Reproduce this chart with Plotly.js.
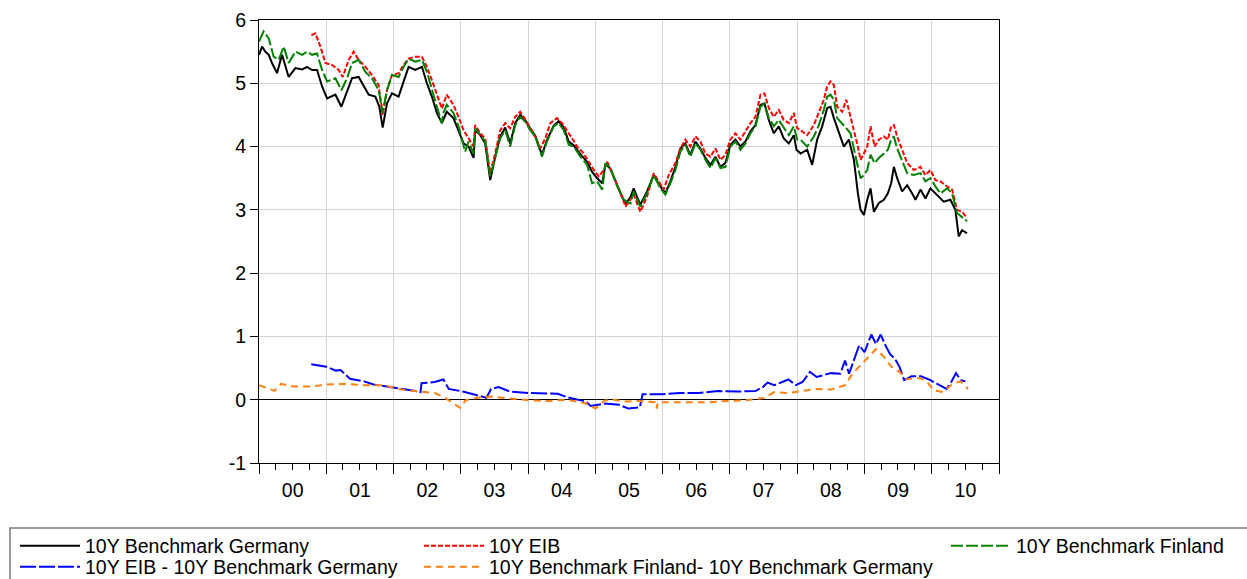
<!DOCTYPE html>
<html>
<head>
<meta charset="utf-8">
<script src="https://cdn.plot.ly/plotly-3.0.1.min.js"></script>
<style>html,body{margin:0;padding:0;background:#fff;}#chart{width:1247px;height:579px;}</style>
</head>
<body>
<div id="chart"></div>
<script>
// ---- data (decimal years, yields in %) ----
const germanyYears = [2000.00,2000.045,2000.094,2000.144,2000.193,2000.267,2000.342,2000.44,2000.54,2000.64,2000.713,2000.787,2000.861,2000.936,2001.01,2001.134,2001.223,2001.307,2001.381,2001.48,2001.554,2001.629,2001.728,2001.787,2001.837,2001.901,2001.975,2002.074,2002.149,2002.223,2002.322,2002.421,2002.495,2002.569,2002.644,2002.718,2002.79,2002.89,2002.965,2003.04,2003.114,2003.19,2003.213,2003.288,2003.362,2003.437,2003.511,2003.586,2003.66,2003.734,2003.809,2003.883,2003.958,2004.032,2004.107,2004.206,2004.28,2004.38,2004.454,2004.529,2004.603,2004.677,2004.777,2004.876,2004.95,2005.025,2005.1,2005.149,2005.223,2005.323,2005.397,2005.447,2005.521,2005.568,2005.667,2005.767,2005.866,2005.965,2006.04,2006.114,2006.189,2006.263,2006.337,2006.412,2006.486,2006.561,2006.635,2006.71,2006.784,2006.859,2006.933,2007.007,2007.082,2007.156,2007.231,2007.305,2007.38,2007.454,2007.514,2007.578,2007.653,2007.727,2007.801,2007.876,2007.95,2007.99,2008.05,2008.149,2008.223,2008.297,2008.371,2008.446,2008.495,2008.545,2008.619,2008.693,2008.767,2008.842,2008.901,2008.941,2008.99,2009.04,2009.089,2009.139,2009.213,2009.287,2009.347,2009.396,2009.436,2009.485,2009.559,2009.634,2009.708,2009.757,2009.832,2009.906,2009.98,2010.079,2010.178,2010.277,2010.351,2010.401,2010.45,2010.525];
const germanyYields = [5.45,5.58,5.50,5.45,5.32,5.16,5.45,5.10,5.24,5.22,5.26,5.21,5.21,4.95,4.76,4.82,4.63,4.87,5.08,5.10,4.95,4.82,4.79,4.63,4.30,4.68,4.84,4.79,5.03,5.26,5.21,5.26,5.00,4.79,4.53,4.37,4.55,4.45,4.25,4.05,4.00,3.82,4.27,4.18,4.05,3.47,3.84,4.16,4.30,4.05,4.37,4.50,4.42,4.28,4.17,3.87,4.10,4.33,4.40,4.30,4.08,4.02,3.88,3.76,3.60,3.50,3.42,3.72,3.65,3.38,3.20,3.10,3.20,3.34,3.08,3.29,3.55,3.37,3.26,3.45,3.68,3.97,4.05,3.87,4.08,3.97,3.82,3.71,3.84,3.68,3.74,4.03,4.11,4.00,4.08,4.24,4.34,4.66,4.68,4.42,4.21,4.32,4.13,4.05,4.18,3.95,3.89,3.95,3.71,4.11,4.32,4.61,4.63,4.45,4.24,4.00,4.11,3.79,3.26,3.00,2.92,3.16,3.34,2.97,3.11,3.16,3.26,3.42,3.68,3.50,3.29,3.39,3.26,3.16,3.32,3.18,3.34,3.24,3.13,3.16,3.00,2.58,2.68,2.63];

const eibYears = [2000.777,2000.837,2000.911,2000.985,2001.084,2001.183,2001.243,2001.332,2001.406,2001.48,2001.579,2001.678,2001.777,2001.837,2001.901,2001.975,2002.074,2002.149,2002.223,2002.322,2002.421,2002.495,2002.569,2002.644,2002.718,2002.79,2002.89,2002.965,2003.04,2003.114,2003.19,2003.213,2003.288,2003.362,2003.437,2003.511,2003.586,2003.66,2003.734,2003.809,2003.883,2003.933,2004.007,2004.082,2004.181,2004.256,2004.33,2004.429,2004.504,2004.578,2004.653,2004.727,2004.826,2004.9,2004.975,2005.05,2005.124,2005.174,2005.248,2005.323,2005.397,2005.447,2005.521,2005.568,2005.667,2005.767,2005.866,2005.965,2006.015,2006.089,2006.189,2006.263,2006.337,2006.412,2006.486,2006.561,2006.635,2006.71,2006.784,2006.859,2006.933,2007.007,2007.082,2007.156,2007.231,2007.305,2007.38,2007.454,2007.514,2007.578,2007.653,2007.727,2007.801,2007.876,2007.95,2008.0,2008.05,2008.149,2008.248,2008.322,2008.396,2008.446,2008.495,2008.545,2008.594,2008.668,2008.728,2008.792,2008.842,2008.901,2008.941,2008.99,2009.04,2009.089,2009.149,2009.213,2009.287,2009.347,2009.396,2009.436,2009.485,2009.559,2009.634,2009.733,2009.832,2009.906,2009.98,2010.054,2010.129,2010.228,2010.302,2010.376,2010.45,2010.525];
const eibYields = [5.76,5.79,5.58,5.32,5.29,5.21,5.10,5.37,5.50,5.37,5.26,5.13,4.97,4.50,4.89,5.13,5.16,5.29,5.39,5.42,5.42,5.26,5.05,4.82,4.60,4.82,4.66,4.47,4.26,4.13,4.00,4.34,4.21,4.13,3.58,3.89,4.26,4.37,4.29,4.47,4.55,4.47,4.34,4.21,3.97,4.13,4.37,4.45,4.37,4.26,4.13,4.00,3.89,3.76,3.63,3.53,3.63,3.76,3.58,3.37,3.21,3.05,3.16,3.24,2.97,3.21,3.58,3.42,3.32,3.55,3.74,3.97,4.11,4.00,4.16,4.08,3.89,3.84,3.97,3.79,3.87,4.11,4.21,4.11,4.24,4.37,4.47,4.82,4.84,4.61,4.47,4.58,4.42,4.37,4.53,4.29,4.26,4.18,4.34,4.55,4.74,4.95,5.03,4.97,4.63,4.55,4.74,4.47,4.26,4.00,3.79,3.89,4.00,4.32,4.00,4.11,4.16,4.11,4.32,4.34,4.16,3.95,3.74,3.63,3.68,3.55,3.63,3.47,3.45,3.37,3.32,3.00,2.97,2.87];

const finlandYears = [2000.00,2000.069,2000.144,2000.218,2000.292,2000.366,2000.44,2000.54,2000.64,2000.713,2000.787,2000.861,2000.936,2001.01,2001.134,2001.223,2001.307,2001.381,2001.48,2001.579,2001.678,2001.777,2001.837,2001.901,2001.975,2002.074,2002.149,2002.223,2002.322,2002.421,2002.495,2002.569,2002.644,2002.718,2002.74,2002.79,2002.89,2002.965,2003.064,2003.114,2003.19,2003.213,2003.288,2003.362,2003.437,2003.511,2003.586,2003.66,2003.734,2003.809,2003.883,2003.958,2004.032,2004.107,2004.206,2004.28,2004.38,2004.454,2004.529,2004.603,2004.677,2004.777,2004.876,2004.95,2005.025,2005.1,2005.149,2005.223,2005.323,2005.422,2005.521,2005.568,2005.667,2005.767,2005.866,2005.965,2006.04,2006.114,2006.189,2006.263,2006.337,2006.412,2006.486,2006.561,2006.635,2006.71,2006.784,2006.859,2006.933,2007.007,2007.082,2007.156,2007.231,2007.305,2007.38,2007.454,2007.514,2007.578,2007.653,2007.727,2007.801,2007.876,2007.95,2008.0,2008.05,2008.149,2008.248,2008.322,2008.396,2008.446,2008.495,2008.545,2008.594,2008.668,2008.728,2008.792,2008.842,2008.901,2008.941,2008.99,2009.04,2009.089,2009.149,2009.213,2009.287,2009.347,2009.396,2009.436,2009.485,2009.559,2009.634,2009.733,2009.832,2009.906,2009.98,2010.054,2010.129,2010.228,2010.302,2010.376,2010.45,2010.525];
const finlandYields = [5.66,5.82,5.71,5.42,5.37,5.58,5.32,5.50,5.45,5.50,5.45,5.47,5.21,5.03,5.08,4.89,5.08,5.32,5.37,5.18,5.08,4.89,4.53,4.89,5.13,5.10,5.26,5.39,5.34,5.37,5.18,4.89,4.63,4.37,4.53,4.66,4.53,4.32,3.92,4.08,3.89,4.29,4.18,4.08,3.53,3.84,4.13,4.26,4.00,4.34,4.47,4.39,4.26,4.16,3.84,4.08,4.32,4.37,4.26,4.03,4.00,3.84,3.71,3.42,3.45,3.32,3.74,3.66,3.37,3.16,3.10,3.29,3.05,3.26,3.55,3.34,3.24,3.42,3.63,3.92,4.03,3.84,4.05,3.95,3.79,3.66,3.82,3.66,3.68,4.00,4.08,3.95,4.05,4.21,4.32,4.63,4.68,4.45,4.32,4.42,4.29,4.18,4.32,4.11,4.11,4.00,4.16,4.34,4.58,4.79,4.82,4.74,4.45,4.37,4.29,4.21,3.95,3.68,3.50,3.55,3.63,3.87,3.74,3.82,3.89,3.95,4.11,4.16,3.97,3.79,3.58,3.55,3.58,3.45,3.50,3.37,3.26,3.34,3.26,2.95,2.89,2.82];

const eibSpreadYears = [2000.776,2001.0,2001.14,2001.21,2001.35,2001.56,2001.70,2001.98,2002.26,2002.40,2002.415,2002.61,2002.74,2002.82,2003.03,2003.24,2003.38,2003.45,2003.56,2003.73,2004.02,2004.44,2004.58,2004.86,2004.93,2005.14,2005.35,2005.49,2005.66,2005.70,2005.98,2006.26,2006.54,2006.82,2007.10,2007.38,2007.49,2007.56,2007.66,2007.87,2007.98,2008.08,2008.19,2008.29,2008.50,2008.64,2008.71,2008.77,2008.85,2008.92,2009.0,2009.10,2009.17,2009.24,2009.31,2009.38,2009.45,2009.52,2009.59,2009.70,2009.84,2009.98,2010.08,2010.22,2010.29,2010.36,2010.43,2010.50];
const eibSpread = [0.56,0.52,0.46,0.47,0.33,0.29,0.24,0.20,0.15,0.12,0.26,0.28,0.32,0.17,0.13,0.07,0.03,0.17,0.20,0.13,0.105,0.095,0.04,-0.03,-0.10,-0.06,-0.08,-0.14,-0.12,0.085,0.085,0.105,0.105,0.137,0.13,0.137,0.20,0.27,0.23,0.32,0.23,0.28,0.44,0.36,0.42,0.41,0.62,0.41,0.67,0.86,0.75,1.03,0.88,1.03,0.86,0.72,0.65,0.52,0.31,0.37,0.37,0.31,0.25,0.17,0.28,0.42,0.31,0.29];

const finlandSpreadYears = [2000.004,2000.09,2000.23,2000.33,2000.51,2000.79,2001.0,2001.28,2001.56,2001.84,2002.12,2002.40,2002.61,2002.75,2002.89,2002.99,2003.07,2003.24,2003.45,2003.73,2004.02,2004.30,2004.58,2004.86,2005.0,2005.14,2005.28,2005.42,2005.63,2005.90,2005.91,2005.93,2006.12,2006.40,2006.68,2006.96,2007.24,2007.52,2007.66,2007.87,2008.08,2008.29,2008.50,2008.71,2008.82,2008.92,2009.05,2009.17,2009.27,2009.40,2009.52,2009.63,2009.77,2009.91,2010.03,2010.17,2010.31,2010.43,2010.54];
const finlandSpread = [0.23,0.20,0.14,0.25,0.21,0.21,0.24,0.25,0.23,0.23,0.16,0.13,0.105,0.04,-0.06,-0.13,-0.01,0.03,0.05,0.016,-0.01,-0.02,0.0,-0.06,-0.14,-0.01,0.0,-0.03,-0.02,-0.04,-0.14,-0.04,-0.04,-0.03,-0.04,-0.02,-0.01,0.03,0.12,0.105,0.137,0.17,0.16,0.23,0.41,0.52,0.67,0.80,0.70,0.52,0.44,0.32,0.35,0.31,0.15,0.12,0.25,0.29,0.17];

const seriesNames = ['10Y Benchmark Germany','10Y EIB','10Y Benchmark Finland','10Y EIB - 10Y Benchmark Germany','10Y Benchmark Finland- 10Y Benchmark Germany'];
const yTickValues = [-1,0,1,2,3,4,5,6];
const yTickLabels = ['-1','0','1','2','3','4','5','6'];

// ---- helpers ----
function toDate(d){
  const y = Math.floor(d);
  const s = Date.UTC(y,0,1), e = Date.UTC(y+1,0,1);
  return new Date(s + (d - y) * (e - s)).toISOString().slice(0,19).replace('T',' ');
}
const dates = a => a.map(toDate);

const FONT = 'Liberation Sans, Arial, sans-serif';
const FS = 19.5;

const traces = [
  {x: dates(germanyYears), y: germanyYields, name: seriesNames[0], legend: 'legend',
   line: {color: '#000000', width: 2}},
  {x: dates(eibYears), y: eibYields, name: seriesNames[1], legend: 'legend2',
   line: {color: '#ff0000', width: 2, dash: '5px,2px'}},
  {x: dates(finlandYears), y: finlandYields, name: seriesNames[2], legend: 'legend3',
   line: {color: '#008000', width: 2, dash: '12px,3px'}},
  {x: dates(eibSpreadYears), y: eibSpread, name: seriesNames[3], legend: 'legend4',
   line: {color: '#0000ff', width: 2, dash: '16px,3px'}},
  {x: dates(finlandSpreadYears), y: finlandSpread, name: seriesNames[4], legend: 'legend5',
   line: {color: '#ff8010', width: 2, dash: '7px,5px'}}
].map(t => Object.assign({type: 'scatter', mode: 'lines', showlegend: true}, t));

const W = 1247, H = 579;
function leg(px, py){
  return {xref: 'container', yref: 'container', x: px / W, y: 1 - py / H,
    xanchor: 'left', yanchor: 'middle', orientation: 'v',
    bgcolor: 'rgba(0,0,0,0)', borderwidth: 0, itemwidth: 60,
    font: {family: FONT, size: FS, color: '#000'}, itemclick: false, itemdoubleclick: false};
}

const layout = {
  width: W, height: H,
  margin: {l: 259, r: 248, t: 20, b: 116, autoexpand: false},
  paper_bgcolor: '#ffffff', plot_bgcolor: '#ffffff',
  font: {family: FONT, size: FS, color: '#000'},
  showlegend: true,
  xaxis: {
    type: 'date',
    range: ['2000-01-01', '2011-01-01'],
    tick0: '2000-01-01', dtick: 'M12', tickformat: '%y', ticklabelmode: 'period',
    ticks: 'outside', ticklen: 10, tickcolor: '#000', tickwidth: 1,
    minor: {dtick: 'M3', ticks: 'outside', ticklen: 6, tickcolor: '#000', showgrid: false},
    showgrid: true, gridcolor: '#d4d4d4', gridwidth: 1,
    showline: true, linecolor: '#000', linewidth: 1, mirror: true,
    tickfont: {family: FONT, size: FS, color: '#000'},
    zeroline: false, fixedrange: true, automargin: false
  },
  yaxis: {
    range: [-1, 6], tickmode: 'array', tickvals: yTickValues, ticktext: yTickLabels,
    ticks: 'outside', ticklen: 8, tickcolor: '#000',
    showgrid: true, gridcolor: '#d4d4d4', gridwidth: 1,
    zeroline: true, zerolinecolor: '#000', zerolinewidth: 1,
    showline: true, linecolor: '#000', linewidth: 1, mirror: true,
    tickfont: {family: FONT, size: FS, color: '#000'}, fixedrange: true, automargin: false
  },
  legend: leg(15, 546),
  legend2: leg(419, 546),
  legend3: leg(946, 546),
  legend4: leg(15, 567),
  legend5: leg(419, 567),
  shapes: [{
    type: 'rect', xref: 'paper', yref: 'paper',
    x0: (10 - 259) / 740, x1: (1252 - 259) / 740,
    y0: (463 - 590) / 443, y1: (463 - 528) / 443,
    line: {color: '#7a7a7a', width: 1.5}, fillcolor: 'rgba(0,0,0,0)', layer: 'below'
  }]
};

Plotly.newPlot('chart', traces, layout, {displayModeBar: false, staticPlot: true});
</script>
</body>
</html>
